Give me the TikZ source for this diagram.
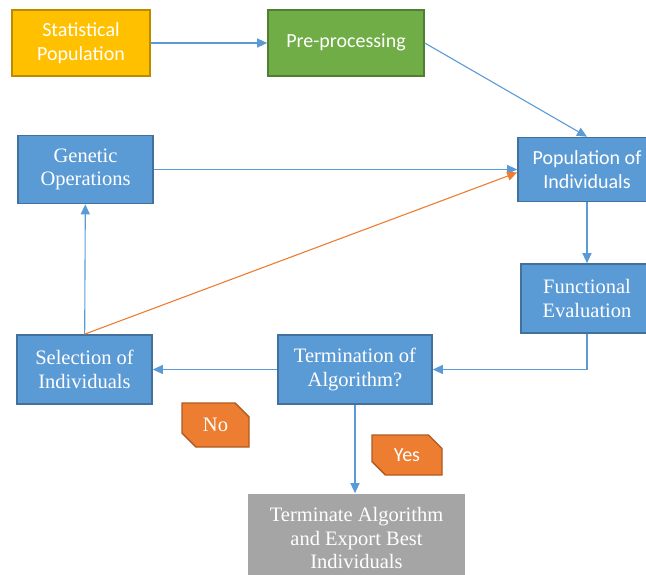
\documentclass[tikz,border=0pt]{standalone}
\usepackage{fontspec}
\setmainfont{Liberation Serif}
\newfontfamily\calibri{Carlito}
\usepackage{tikz}
\usetikzlibrary{arrows.meta,shapes.misc}

\definecolor{boxblue}{HTML}{5B9BD5}
\definecolor{lineblue}{HTML}{41719C}
\definecolor{boxyellow}{HTML}{FFC000}
\definecolor{lineyellow}{HTML}{BC8C00}
\definecolor{boxgreen}{HTML}{70AD47}
\definecolor{linegreen}{HTML}{507E32}
\definecolor{boxorange}{HTML}{ED7D31}
\definecolor{lineorange}{HTML}{AE5A21}
\definecolor{boxgray}{HTML}{A5A5A5}

\tikzset{
	stepbox/.style={draw=lineblue,fill=boxblue,line width=1.6pt,text=white,align=center,inner sep=0pt,
		font=\fontsize{20.5}{23.5}\selectfont},
	sansbox/.style={stepbox,font=\calibri\fontsize{20}{24}\selectfont},
	tagbox/.style={chamfered rectangle,chamfered rectangle corners={north east,south west},
		chamfered rectangle xsep=7pt,chamfered rectangle ysep=7pt,
		draw=lineorange,fill=boxorange,line width=1.4pt,text=white,inner sep=0pt},
	flow/.style={draw=boxblue,line width=1.1pt,-{Triangle[length=10pt,width=9pt]}}
}

\begin{document}
\begin{tikzpicture}[x=1pt,y=-1pt]
	\useasboundingbox (0,0) rectangle (646,574);
	
	\node (stat) [sansbox,draw=lineyellow,fill=boxyellow,minimum width=138pt,minimum height=66pt] at (81,43) {Statistical\\Population};
	\node (pre) [sansbox,draw=linegreen,fill=boxgreen,minimum width=156pt,minimum height=66pt] at (346,43) {\raisebox{5pt}{Pre-processing}};
	\node (pop) [sansbox,minimum width=138pt,minimum height=64pt] at (587,169.5) {Population of\\Individuals};
	\node (gen) [stepbox,minimum width=135pt,minimum height=68pt] at (85.5,169.5) {Genetic\\Operations};
	\node (func) [stepbox,minimum width=132pt,minimum height=69pt] at (587,298.5) {Functional\\Evaluation};
	\node (term) [stepbox,minimum width=154pt,minimum height=69pt] at (355,369.5) {Termination of\\Algorithm?};
	\node (sel) [stepbox,minimum width=135pt,minimum height=69pt] at (84.5,369.5) {Selection of\\Individuals};
	\node (final) [stepbox,draw=none,fill=boxgray,minimum width=217pt,minimum height=88pt] at (356.5,538) {Terminate Algorithm\\and Export Best\\Individuals};
	
	\node (no) [tagbox,minimum width=67pt,minimum height=44pt,font=\fontsize{20.5}{23.5}\selectfont] at (215.5,425) {No};
	\node (yes) [tagbox,minimum width=70pt,minimum height=40pt,font=\calibri\fontsize{20}{24}\selectfont] at (407,455) {Yes};
	
	\draw [flow] (stat) -- (pre);
	\draw [flow] (pre.east) -- (pop.north);
	\draw [flow] (gen) -- (pop);
	\draw [flow] (sel) -- (gen);
	\draw [flow,draw=boxorange] (sel.north) -- ([yshift=-3pt]pop.west);
	\draw [flow] (pop) -- (func);
	\draw [flow] (func.south) |- (term.east);
	\draw [flow] (term) -- (sel);
	\draw [flow] (term.south) -- (term.south |- final.north);
	
\end{tikzpicture}
\end{document}
